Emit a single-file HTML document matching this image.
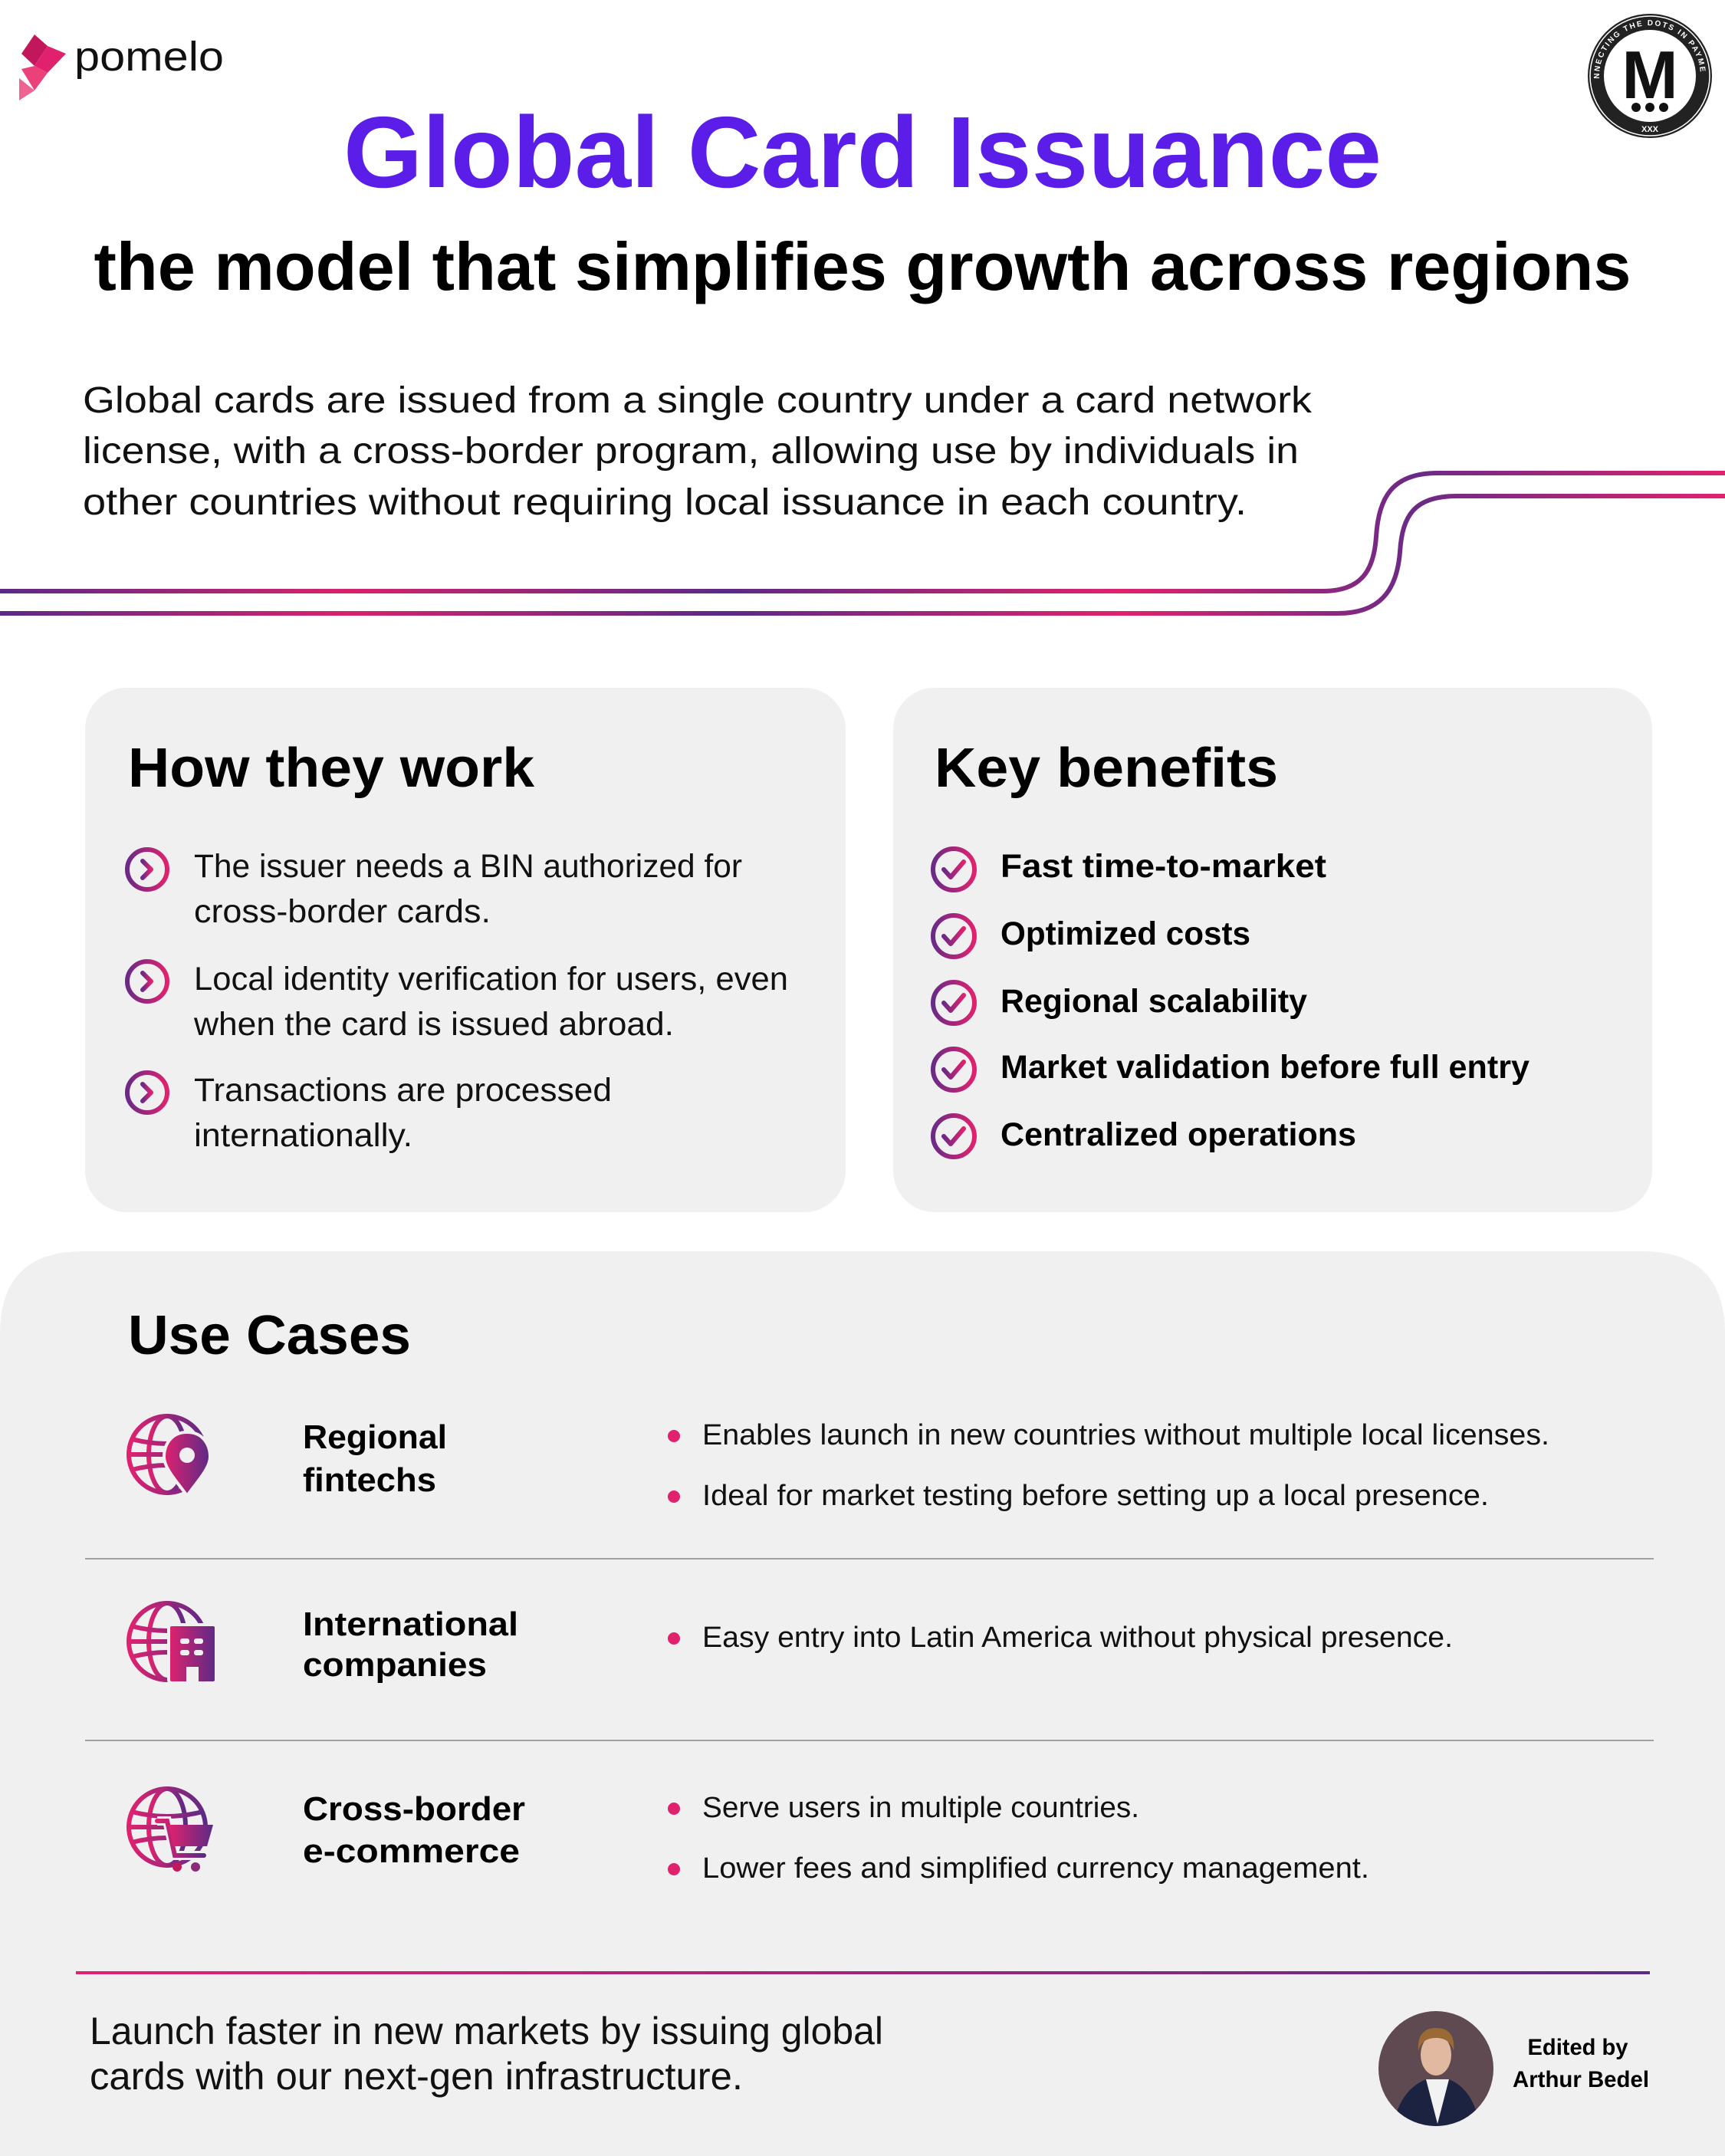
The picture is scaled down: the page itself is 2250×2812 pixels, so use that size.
<!DOCTYPE html>
<html><head><meta charset="utf-8"><style>
html,body{margin:0;padding:0;background:#fff}
svg{display:block}
text{font-family:"Liberation Sans",sans-serif}
</style></head><body>
<svg width="2250" height="2812" viewBox="0 0 2250 2812" xmlns="http://www.w3.org/2000/svg">
<defs>
<linearGradient id="wave" x1="0" y1="0" x2="2250" y2="0" gradientUnits="userSpaceOnUse">
<stop offset="0" stop-color="#5b2a86"/><stop offset="0.2" stop-color="#d8226c"/><stop offset="0.42" stop-color="#5b2a86"/><stop offset="0.65" stop-color="#e0226e"/><stop offset="0.82" stop-color="#6a2a86"/><stop offset="1" stop-color="#e0226e"/>
</linearGradient>
<linearGradient id="ig" x1="0" y1="0" x2="1" y2="0"><stop offset="0" stop-color="#e0226e"/><stop offset="1" stop-color="#5b2a86"/></linearGradient>
<linearGradient id="ig2" x1="0" y1="0" x2="1" y2="0"><stop offset="0" stop-color="#6a2a86"/><stop offset="1" stop-color="#e0226e"/></linearGradient>
<linearGradient id="bl" x1="0" y1="0" x2="1" y2="0"><stop offset="0" stop-color="#e0226e"/><stop offset="1" stop-color="#5b2a86"/></linearGradient>
<clipPath id="av"><circle cx="1873" cy="2698" r="75"/></clipPath>
<g id="globe" fill="none" stroke="url(#ig)" stroke-width="6">
<circle cx="0" cy="0" r="50"/>
<ellipse cx="0" cy="0" rx="24" ry="50"/>
<line x1="0" y1="-50" x2="0" y2="50"/>
<path d="M-46 -20 Q0 -8 46 -20 M-50 0 H50 M-46 20 Q0 8 46 20"/>
</g>
</defs>

<!-- pomelo logo -->
<polygon points="45,45 62,60 45,86 28,70" fill="#c2185b"/>
<polygon points="62,60 86,70 62,95 45,86" fill="#e0226e"/>
<polygon points="28,90 45,86 62,95 45,118" fill="#ec407a"/>
<polygon points="25,102 45,118 25,131" fill="#f06292"/>
<text x="97" y="92" font-size="54" fill="#111" textLength="195" lengthAdjust="spacingAndGlyphs">pomelo</text>

<!-- badge -->
<circle cx="2152" cy="99" r="81" fill="#222"/>
<circle cx="2152" cy="99" r="78" fill="none" stroke="#fff" stroke-width="1.5"/>
<circle cx="2152" cy="99" r="60" fill="#fff"/>
<text x="2152" y="128" font-size="88" font-weight="bold" text-anchor="middle" fill="#111">M</text>
<circle cx="2134" cy="140" r="6" fill="#111"/><circle cx="2152" cy="140" r="6" fill="#111"/><circle cx="2170" cy="140" r="6" fill="#111"/>
<path id="ring" d="M2086 99 A66 66 0 0 1 2218 99" fill="none"/>
<text font-size="10" font-weight="bold" fill="#fff" letter-spacing="2"><textPath href="#ring" startOffset="50%" text-anchor="middle">CONNECTING THE DOTS IN PAYMENTS</textPath></text>
<text x="2152" y="172" font-size="11" font-weight="bold" text-anchor="middle" fill="#fff">XXX</text>

<!-- title -->
<text x="1125" y="244" font-size="132" font-weight="bold" fill="#5b1ee9" text-anchor="middle" textLength="1354" lengthAdjust="spacingAndGlyphs">Global Card Issuance</text>
<text x="1125" y="378" font-size="88" font-weight="bold" fill="#000" text-anchor="middle" textLength="2005" lengthAdjust="spacingAndGlyphs">the model that simplifies growth across regions</text>

<text x="108" y="538" font-size="48" fill="#111" textLength="1603" lengthAdjust="spacingAndGlyphs">Global cards are issued from a single country under a card network</text>
<text x="108" y="604" font-size="48" fill="#111" textLength="1586" lengthAdjust="spacingAndGlyphs">license, with a cross-border program, allowing use by individuals in</text>
<text x="108" y="671" font-size="48" fill="#111" textLength="1518" lengthAdjust="spacingAndGlyphs">other countries without requiring local issuance in each country.</text>

<!-- waves -->
<path d="M0 771 H1725 C1775 771 1792 745 1795 700 C1798 650 1815 617 1875 617 H2250" fill="none" stroke="url(#wave)" stroke-width="6"/>
<path d="M0 800 H1745 C1800 800 1822 770 1826 720 C1829 672 1845 647 1900 647 H2250" fill="none" stroke="url(#wave)" stroke-width="6"/>

<!-- cards -->
<rect x="111" y="897" width="992" height="684" rx="54" fill="#f0f0f0"/>
<rect x="1165" y="897" width="990" height="684" rx="54" fill="#f0f0f0"/>

<text x="167" y="1026" font-size="72" font-weight="bold" fill="#000" textLength="530" lengthAdjust="spacingAndGlyphs">How they work</text>
<g fill="none" stroke="url(#ig2)" stroke-width="6" stroke-linecap="round" stroke-linejoin="round">
<circle cx="192" cy="1134" r="26"/><path d="M186 1123 L197 1134 L186 1145"/>
<circle cx="192" cy="1280" r="26"/><path d="M186 1269 L197 1280 L186 1291"/>
<circle cx="192" cy="1425" r="26"/><path d="M186 1414 L197 1425 L186 1436"/>
</g>
<g font-size="43" fill="#111">
<text x="253" y="1144" textLength="715" lengthAdjust="spacingAndGlyphs">The issuer needs a BIN authorized for</text>
<text x="253" y="1203" textLength="387" lengthAdjust="spacingAndGlyphs">cross-border cards.</text>
<text x="253" y="1291" textLength="775" lengthAdjust="spacingAndGlyphs">Local identity verification for users, even</text>
<text x="253" y="1350" textLength="626" lengthAdjust="spacingAndGlyphs">when the card is issued abroad.</text>
<text x="253" y="1436" textLength="545" lengthAdjust="spacingAndGlyphs">Transactions are processed</text>
<text x="253" y="1495" textLength="285" lengthAdjust="spacingAndGlyphs">internationally.</text>
</g>

<text x="1219" y="1026" font-size="72" font-weight="bold" fill="#000" textLength="448" lengthAdjust="spacingAndGlyphs">Key benefits</text>
<g fill="none" stroke="url(#ig2)" stroke-width="6" stroke-linecap="round" stroke-linejoin="round">
<circle cx="1244" cy="1134" r="27"/><path d="M1231 1134 L1240 1144 L1257 1124"/>
<circle cx="1244" cy="1221" r="27"/><path d="M1231 1221 L1240 1231 L1257 1211"/>
<circle cx="1244" cy="1308" r="27"/><path d="M1231 1308 L1240 1318 L1257 1298"/>
<circle cx="1244" cy="1395" r="27"/><path d="M1231 1395 L1240 1405 L1257 1385"/>
<circle cx="1244" cy="1482" r="27"/><path d="M1231 1482 L1240 1492 L1257 1472"/>
</g>
<g font-size="43" font-weight="bold" fill="#000">
<text x="1305" y="1144" textLength="425" lengthAdjust="spacingAndGlyphs">Fast time-to-market</text>
<text x="1305" y="1232" textLength="326" lengthAdjust="spacingAndGlyphs">Optimized costs</text>
<text x="1305" y="1320" textLength="400" lengthAdjust="spacingAndGlyphs">Regional scalability</text>
<text x="1305" y="1406" textLength="690" lengthAdjust="spacingAndGlyphs">Market validation before full entry</text>
<text x="1305" y="1494" textLength="464" lengthAdjust="spacingAndGlyphs">Centralized operations</text>
</g>

<!-- use cases panel -->
<path d="M0 2812 V1740 Q0 1632 108 1632 H2142 Q2250 1632 2250 1740 V2812 Z" fill="#f0f0f0"/>
<text x="167" y="1766" font-size="72" font-weight="bold" fill="#000" textLength="369" lengthAdjust="spacingAndGlyphs">Use Cases</text>

<use href="#globe" x="218" y="1897"/>
<path d="M244 1868 C222 1868 214 1886 214 1900 C214 1916 234 1936 244 1951 C254 1936 274 1916 274 1900 C274 1886 266 1868 244 1868 Z" fill="url(#ig)" stroke="#f0f0f0" stroke-width="4"/>
<circle cx="244" cy="1898" r="10" fill="#f0f0f0"/>

<use href="#globe" x="218" y="2141"/>
<rect x="220" y="2119" width="62" height="76" rx="4" fill="url(#ig)" stroke="#f0f0f0" stroke-width="4"/>
<rect x="235" y="2137" width="12" height="7" rx="3" fill="#f0f0f0"/><rect x="253" y="2137" width="12" height="7" rx="3" fill="#f0f0f0"/>
<rect x="235" y="2152" width="12" height="7" rx="3" fill="#f0f0f0"/><rect x="253" y="2152" width="12" height="7" rx="3" fill="#f0f0f0"/>
<rect x="243" y="2174" width="16" height="21" fill="#f0f0f0"/>

<use href="#globe" x="218" y="2383"/>
<path d="M205 2375 H218 L228 2420 H266" fill="none" stroke="#f0f0f0" stroke-width="12"/>
<path d="M205 2375 H218 L228 2420 H266" fill="none" stroke="url(#ig)" stroke-width="6" stroke-linecap="round"/>
<path d="M220 2380 H278 L270 2408 H226 Z" fill="url(#ig)"/>
<circle cx="231" cy="2435" r="6" fill="#c2185b"/><circle cx="255" cy="2435" r="6" fill="#8a2a7a"/>

<g font-size="44" font-weight="bold" fill="#000">
<text x="395" y="1889" textLength="188" lengthAdjust="spacingAndGlyphs">Regional</text>
<text x="395" y="1945" textLength="174" lengthAdjust="spacingAndGlyphs">fintechs</text>
<text x="395" y="2133" textLength="281" lengthAdjust="spacingAndGlyphs">International</text>
<text x="395" y="2186" textLength="240" lengthAdjust="spacingAndGlyphs">companies</text>
<text x="395" y="2374" textLength="290" lengthAdjust="spacingAndGlyphs">Cross-border</text>
<text x="395" y="2429" textLength="283" lengthAdjust="spacingAndGlyphs">e-commerce</text>
</g>

<line x1="111" y1="2033" x2="2157" y2="2033" stroke="#a0a0a0" stroke-width="2"/>
<line x1="111" y1="2270" x2="2157" y2="2270" stroke="#a0a0a0" stroke-width="2"/>

<g fill="#e0226e">
<circle cx="879" cy="1873" r="8"/><circle cx="879" cy="1952" r="8"/>
<circle cx="879" cy="2137" r="8"/>
<circle cx="879" cy="2359" r="8"/><circle cx="879" cy="2438" r="8"/>
</g>
<g font-size="38" fill="#111">
<text x="916" y="1884" textLength="1105" lengthAdjust="spacingAndGlyphs">Enables launch in new countries without multiple local licenses.</text>
<text x="916" y="1963" textLength="1026" lengthAdjust="spacingAndGlyphs">Ideal for market testing before setting up a local presence.</text>
<text x="916" y="2148" textLength="979" lengthAdjust="spacingAndGlyphs">Easy entry into Latin America without physical presence.</text>
<text x="916" y="2370" textLength="570" lengthAdjust="spacingAndGlyphs">Serve users in multiple countries.</text>
<text x="916" y="2449" textLength="870" lengthAdjust="spacingAndGlyphs">Lower fees and simplified currency management.</text>
</g>

<rect x="99" y="2571" width="2053" height="4" fill="url(#bl)"/>
<text x="117" y="2666" font-size="50" fill="#111" textLength="1035" lengthAdjust="spacingAndGlyphs">Launch faster in new markets by issuing global</text>
<text x="117" y="2725" font-size="50" fill="#111" textLength="852" lengthAdjust="spacingAndGlyphs">cards with our next-gen infrastructure.</text>

<!-- avatar -->
<g clip-path="url(#av)">
<rect x="1798" y="2623" width="150" height="150" fill="#5e4a50"/>
<path d="M1818 2773 C1822 2740 1840 2720 1860 2712 H1890 C1910 2720 1925 2740 1930 2773 Z" fill="#1c2340"/>
<path d="M1860 2712 L1875 2770 L1890 2712 Z" fill="#f2f2f2"/>
<ellipse cx="1873" cy="2680" rx="20" ry="27" fill="#e0b9a0"/>
<path d="M1850 2675 C1848 2650 1862 2645 1873 2645 C1890 2645 1898 2655 1896 2675 C1892 2660 1880 2658 1873 2658 C1862 2658 1854 2662 1850 2675 Z" fill="#9a6a35"/>
</g>
<text x="2058" y="2680" font-size="30" font-weight="bold" fill="#000" text-anchor="middle" textLength="131" lengthAdjust="spacingAndGlyphs">Edited by</text>
<text x="2062" y="2722" font-size="30" font-weight="bold" fill="#000" text-anchor="middle" textLength="178" lengthAdjust="spacingAndGlyphs">Arthur Bedel</text>
</svg>
</body></html>
